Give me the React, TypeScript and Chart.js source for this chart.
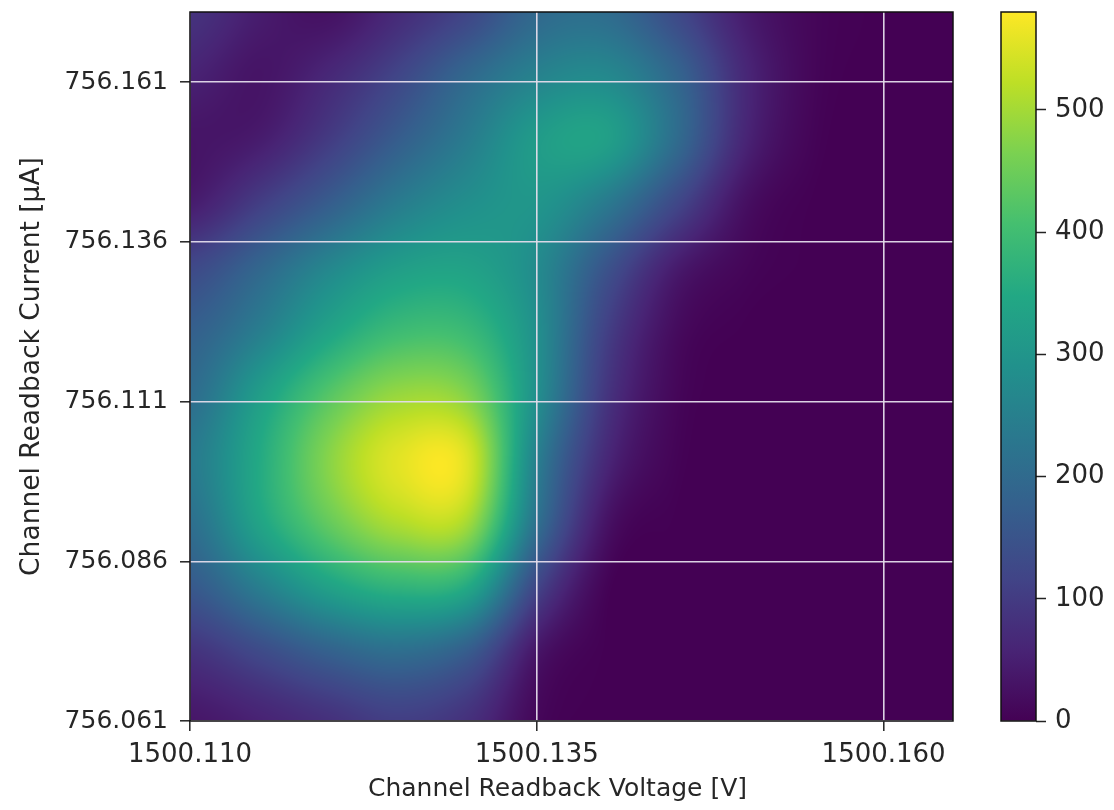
import React, { useEffect, useRef } from "react";
import { Chart, registerables } from "chart.js";

Chart.register(...registerables);

const FONT = "'DejaVu Sans'";
const TEXT = "#262626";
const xNodes = [1500.11, 1500.115, 1500.12, 1500.125, 1500.13, 1500.135, 1500.14, 1500.145, 1500.15, 1500.155, 1500.16, 1500.165];
const yNodes = [756.172, 756.162, 756.152, 756.142, 756.132, 756.122, 756.112, 756.102, 756.092, 756.082, 756.072, 756.061];
const heat = [
  [85, 45, 28, 70, 120, 195, 205, 130, 45, 8, 0, 0],
  [55, 32, 65, 120, 195, 255, 270, 190, 65, 8, 0, 0],
  [32, 45, 100, 170, 240, 315, 325, 205, 60, 5, 0, 0],
  [45, 105, 170, 240, 285, 300, 235, 125, 25, 0, 0, 0],
  [125, 190, 265, 320, 330, 275, 150, 45, 8, 0, 0, 0],
  [175, 245, 335, 395, 390, 285, 110, 18, 0, 0, 0, 0],
  [205, 320, 425, 490, 470, 285, 90, 10, 0, 0, 0, 0],
  [235, 350, 475, 555, 550, 250, 65, 5, 0, 0, 0, 0],
  [210, 335, 440, 510, 500, 215, 30, 0, 0, 0, 0, 0],
  [160, 245, 330, 375, 350, 120, 5, 0, 0, 0, 0, 0],
  [85, 130, 180, 210, 170, 35, 0, 0, 0, 0, 0, 0],
  [35, 55, 80, 105, 80, 10, 0, 0, 0, 0, 0, 0],
];
const xTicks = [1500.11, 1500.135, 1500.16];
const yTicks = [756.061, 756.086, 756.111, 756.136, 756.161];
const cbTicks = [0, 100, 200, 300, 400, 500];
const cbMax = 580;
const viridis = ["#440154", "#482475", "#414487", "#355f8d", "#2a788e", "#21918c", "#22a884", "#44bf70", "#7ad151", "#bddf26", "#fde725"];
const xTitle = "Channel Readback Voltage [V]";
const GRID = "rgba(228,220,235,0.95)";

const rgb = viridis.map((c) => [1, 3, 5].map((i) => parseInt(c.slice(i, i + 2), 16)));
function colorAt(t: number) {
  const p = Math.max(0, Math.min(1, t)) * (rgb.length - 1);
  const i = Math.min(rgb.length - 2, Math.floor(p));
  const f = p - i;
  return rgb[i].map((a, k) => a + (rgb[i + 1][k] - a) * f);
}
function cubic(a: number, b: number, c: number, d: number, t: number) {
  return b + 0.5 * t * (c - a + t * (2 * a - 5 * b + 4 * c - d + t * (3 * (b - c) + d - a)));
}
function sample(fx: number, fy: number) {
  const nx = heat[0].length, ny = heat.length;
  const ix = Math.min(nx - 2, Math.max(0, Math.floor(fx)));
  const iy = Math.min(ny - 2, Math.max(0, Math.floor(fy)));
  const tx = fx - ix, ty = fy - iy;
  const row = (r: number) => {
    const R = heat[Math.max(0, Math.min(ny - 1, r))];
    const g = (c: number) => R[Math.max(0, Math.min(nx - 1, c))];
    return cubic(g(ix - 1), g(ix), g(ix + 1), g(ix + 2), tx);
  };
  return cubic(row(iy - 1), row(iy), row(iy + 1), row(iy + 2), ty);
}
function frac(nodes: number[], v: number) {
  for (let i = 0; i < nodes.length - 1; i++) {
    const a = nodes[i], b = nodes[i + 1];
    if ((v - a) * (v - b) <= 0) return i + (v - a) / (b - a);
  }
  return nodes.length - 1;
}

const heatPlugin = {
  id: "heat",
  beforeDraw(chart: any) {
    const { ctx, chartArea: a, scales } = chart;
    const w = Math.round(a.right - a.left), h = Math.round(a.bottom - a.top);
    const img = ctx.createImageData(w, h);
    for (let py = 0; py < h; py++) {
      const fy = frac(yNodes, scales.y.getValueForPixel(a.top + py + 0.5));
      for (let px = 0; px < w; px++) {
        const fx = frac(xNodes, scales.x.getValueForPixel(a.left + px + 0.5));
        const c = colorAt(sample(fx, fy) / cbMax);
        const o = (py * w + px) * 4;
        img.data[o] = c[0]; img.data[o + 1] = c[1]; img.data[o + 2] = c[2]; img.data[o + 3] = 255;
      }
    }
    ctx.putImageData(img, Math.round(a.left), Math.round(a.top));
  },
};
const framePlugin = {
  id: "frame",
  afterDraw(chart: any) {
    const { ctx, chartArea: a } = chart;
    ctx.save();
    ctx.strokeStyle = "#111";
    ctx.lineWidth = 1.5;
    ctx.strokeRect(a.left, a.top, a.right - a.left, a.bottom - a.top);
    ctx.restore();
  },
};
const xTitlePlugin = {
  id: "xTitle",
  afterDraw(chart: any) {
    const { ctx, chartArea: a } = chart;
    ctx.save();
    ctx.fillStyle = TEXT;
    ctx.font = `25px ${FONT}`;
    ctx.textAlign = "center";
    ctx.textBaseline = "middle";
    ctx.fillText(xTitle, (a.left + a.right) / 2 - 14, a.bottom + 68);
    ctx.restore();
  },
};

export default function App() {
  const mainRef = useRef<HTMLCanvasElement>(null);
  const barRef = useRef<HTMLCanvasElement>(null);
  useEffect(() => {
    document.body.style.margin = "0";
    const points: any[] = [];
    heat.forEach((r, j) => r.forEach((v, i) => points.push({ x: xNodes[i], y: yNodes[j], v })));
    const main = new Chart(mainRef.current!, {
      type: "scatter",
      data: { datasets: [{ label: "Counts", data: points, pointRadius: 0 }] },
      plugins: [heatPlugin, framePlugin, xTitlePlugin],
      options: {
        animation: false, responsive: false,
        layout: { padding: { left: 0, right: 17, top: 12, bottom: 0 } },
        plugins: { legend: { display: false }, tooltip: { enabled: false } },
        scales: {
          x: {
            type: "linear", min: 1500.11, max: 1500.165,
            afterBuildTicks: (s: any) => { s.ticks = xTicks.map((value) => ({ value })); },
            afterFit: (s: any) => { s.height = 89; },
            border: { display: false },
            grid: { color: GRID, lineWidth: 1.6, tickLength: 10, tickColor: "#222", tickWidth: 1.5 },
            ticks: { autoSkip: false, maxRotation: 0, padding: 9, color: TEXT, font: { family: FONT, size: 26 }, callback: (v: any) => Number(v).toFixed(3) },
          },
          y: {
            type: "linear", min: 756.061, max: 756.172,
            afterBuildTicks: (s: any) => { s.ticks = yTicks.map((value) => ({ value })); },
            afterFit: (s: any) => { s.width = 190; s.paddingTop = 0; s.paddingBottom = 0; },
            border: { display: false },
            grid: { color: GRID, lineWidth: 1.6, tickLength: 10, tickColor: "#222", tickWidth: 1.5 },
            ticks: { autoSkip: false, padding: 12, color: TEXT, font: { family: FONT, size: 25 }, callback: (v: any) => Number(v).toFixed(3) },
            title: { display: true, text: "Channel Readback Current [\u03bcA]", color: TEXT, font: { family: FONT, size: 26.5 }, padding: { top: 16, bottom: 4 } },
          },
        },
      },
    } as any);
    const bar = new Chart(barRef.current!, {
      type: "bar",
      data: {
        labels: ["colorbar"],
        datasets: [{
          data: [[0, cbMax]],
          barPercentage: 1, categoryPercentage: 1,
          backgroundColor: (c: any) => {
            const a = c.chart.chartArea;
            if (!a) return viridis[0];
            const g = c.chart.ctx.createLinearGradient(0, a.bottom, 0, a.top);
            viridis.forEach((col, i) => g.addColorStop(i / (viridis.length - 1), col));
            return g;
          },
        }],
      },
      plugins: [framePlugin],
      options: {
        animation: false, responsive: false,
        layout: { padding: { left: 1, right: 0, top: 12, bottom: 89 } },
        plugins: { legend: { display: false }, tooltip: { enabled: false } },
        scales: {
          x: { display: false },
          y: {
            position: "right", min: 0, max: cbMax,
            afterBuildTicks: (s: any) => { s.ticks = cbTicks.map((value) => ({ value })); },
            afterFit: (s: any) => { s.width = 78; s.paddingTop = 0; s.paddingBottom = 0; },
            border: { display: false },
            grid: { drawOnChartArea: false, tickLength: 10, tickColor: "#222", tickWidth: 1.5 },
            ticks: { autoSkip: false, padding: 9, color: TEXT, font: { family: FONT, size: 26 } },
          },
        },
      },
    } as any);
    return () => { main.destroy(); bar.destroy(); };
  }, []);
  return (
    <div style={{ position: "relative", width: 1114, height: 810, background: "#fff" }}>
      <canvas ref={mainRef} width={970} height={810} style={{ position: "absolute", left: 0, top: 0 }} />
      <canvas ref={barRef} width={114} height={810} style={{ position: "absolute", left: 1000, top: 0 }} />
    </div>
  );
}
